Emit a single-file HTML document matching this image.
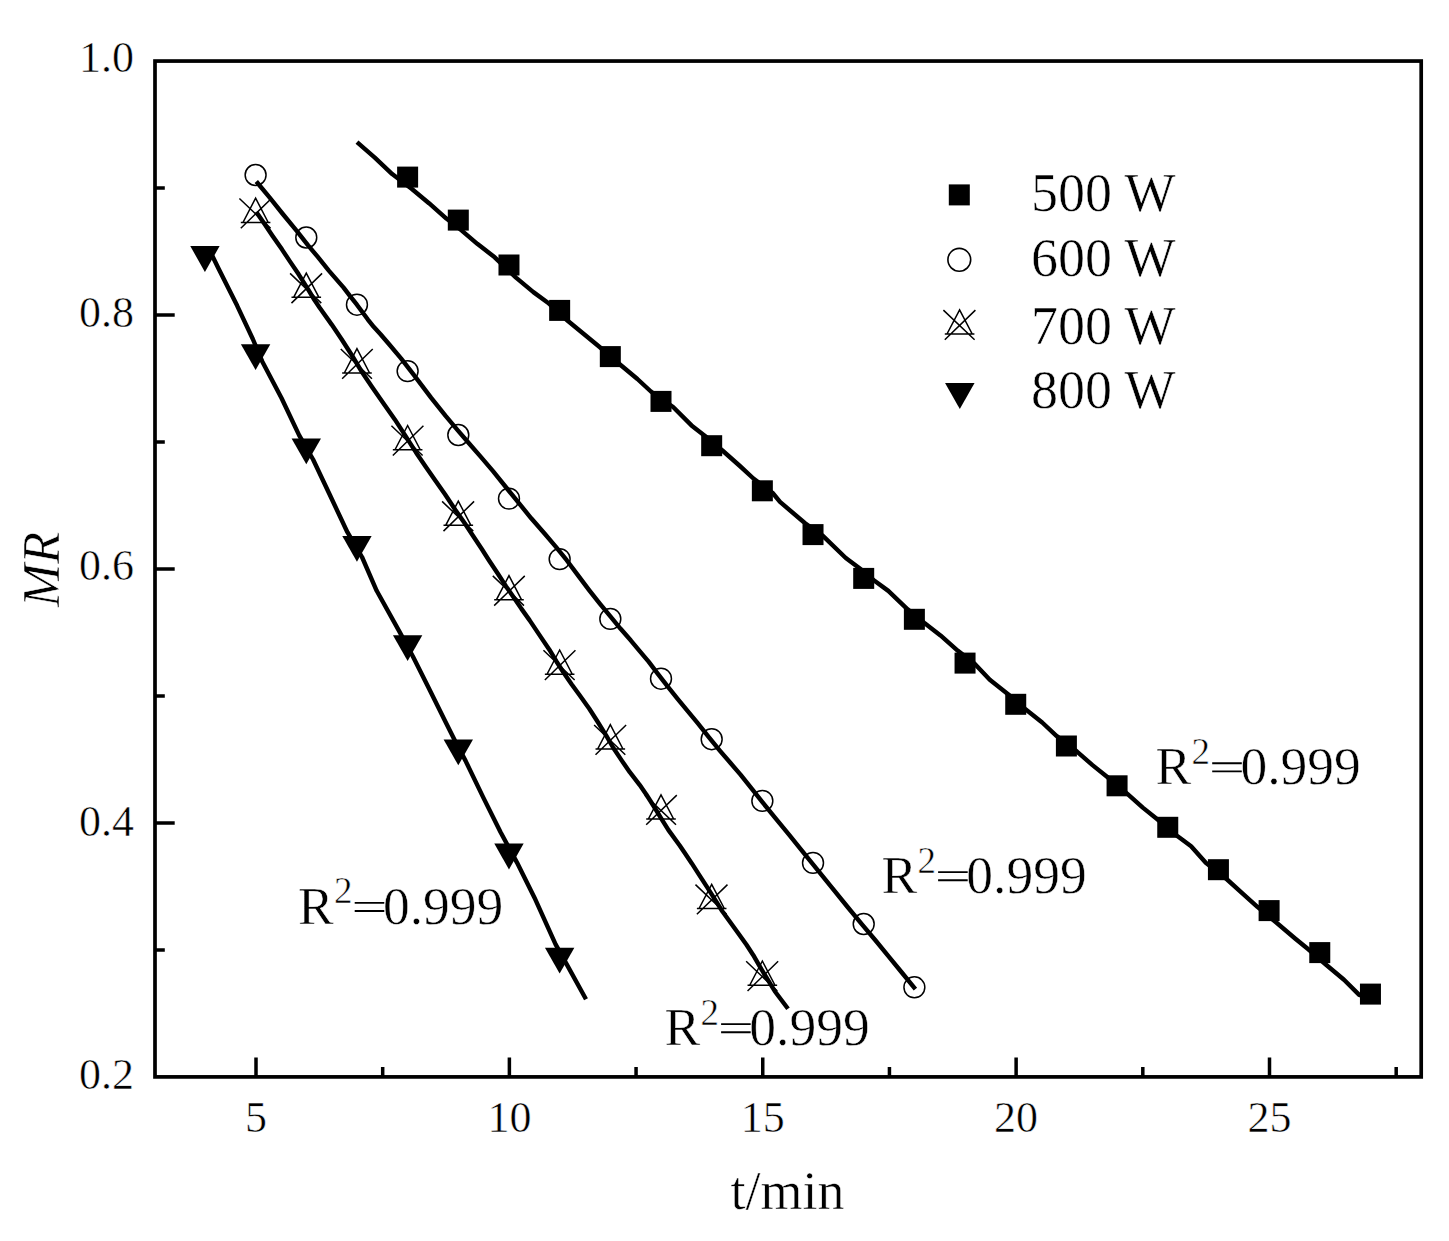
<!DOCTYPE html><html><head><meta charset="utf-8"><style>html,body{margin:0;padding:0;background:#fff;overflow:hidden}svg{display:block}text{font-family:"Liberation Serif",serif;fill:#000;stroke:#fff;stroke-width:0.5px}</style></head><body>
<svg width="1449" height="1241" viewBox="0 0 1449 1241">
<rect x="0" y="0" width="1449" height="1241" fill="#fff"/>
<rect x="155.0" y="61.05" width="1266.20" height="1015.85" fill="none" stroke="#000" stroke-width="3.7"/>
<path d="M256.00 1076.9V1057.40M509.38 1076.9V1057.40M762.75 1076.9V1057.40M1016.12 1076.9V1057.40M1269.50 1076.9V1057.40M382.69 1076.9V1067.10M636.06 1076.9V1067.10M889.44 1076.9V1067.10M1142.81 1076.9V1067.10M1396.19 1076.9V1067.10M155.0 822.94H174.70M155.0 568.98H174.70M155.0 315.01H174.70M155.0 949.92H164.80M155.0 695.96H164.80M155.0 441.99H164.80M155.0 188.03H164.80" stroke="#000" stroke-width="3.5" fill="none"/>
<text x="134" y="71.5" font-size="44" text-anchor="end">1.0</text>
<text x="134" y="327.0" font-size="44" text-anchor="end">0.8</text>
<text x="134" y="580.4" font-size="44" text-anchor="end">0.6</text>
<text x="134" y="835.6" font-size="44" text-anchor="end">0.4</text>
<text x="134" y="1089.2" font-size="44" text-anchor="end">0.2</text>
<text x="256.0" y="1131.5" font-size="44" text-anchor="middle">5</text>
<text x="509.4" y="1131.5" font-size="44" text-anchor="middle">10</text>
<text x="762.8" y="1131.5" font-size="44" text-anchor="middle">15</text>
<text x="1016.1" y="1131.5" font-size="44" text-anchor="middle">20</text>
<text x="1269.5" y="1131.5" font-size="44" text-anchor="middle">25</text>
<text x="787.5" y="1208.5" font-size="54" text-anchor="middle">t/min</text>
<text transform="translate(59,569.4) rotate(-90)" x="0" y="0" font-size="52" font-style="italic" text-anchor="middle">MR</text>
<path d="M357.0 142.2 L374.8 157.7 L392.2 174.1 L411.6 188.7 L429.0 203.2 L446.4 218.6 L461.8 230.6 L477.3 243.8 L494.7 257.3 L516.0 277.6 L533.4 292.1 L547.9 302.7 L568.0 321.0 L583.2 333.5 L599.6 347.0 L620.0 364.5 L637.4 379.0 L650.9 391.5 L673.1 407.0 L691.5 425.4 L705.0 436.0 L722.4 450.5 L739.9 466.0 L753.4 478.5 L772.7 493.0 L780.0 501.9 L805.1 523.2 L822.9 535.8 L845.8 558.0 L861.2 569.6 L873.8 580.3 L888.3 590.9 L907.6 609.3 L924.1 622.8 L940.5 635.4 L957.9 650.8 L974.4 663.4 L989.8 679.8 L1008.4 694.5 L1025.2 709.0 L1042.2 722.5 L1056.7 736.1 L1077.0 751.6 L1092.5 765.1 L1107.0 776.7 L1127.7 794.1 L1142.8 807.6 L1157.3 819.2 L1178.0 836.6 L1191.1 846.3 L1205.8 862.8 L1227.1 879.5 L1243.8 894.7 L1257.4 906.8 L1275.7 922.0 L1295.4 938.7 L1308.3 949.3 L1325.8 964.5 L1344.0 979.7 L1359.2 994.9 L1366.0 997.0" stroke="#000" stroke-width="4.4" fill="none" stroke-linejoin="round" stroke-linecap="butt"/>
<path d="M256.3 181.5 L269.3 197.2 L282.8 214.0 L296.7 230.8 L308.1 245.4 L317.8 256.9 L328.8 270.6 L343.6 287.6 L349.9 295.9 L356.9 304.7 L367.7 319.3 L373.9 327.1 L380.3 334.0 L388.9 344.0 L401.0 358.3 L414.2 375.4 L431.2 397.9 L445.4 415.7 L457.8 430.4 L468.7 443.0 L480.6 456.6 L493.0 471.2 L507.4 489.0 L519.3 503.6 L531.2 518.3 L544.1 533.0 L555.7 546.6 L566.7 560.2 L578.4 575.9 L589.3 590.3 L599.8 603.6 L611.0 617.2 L620.6 628.8 L630.7 640.3 L639.5 650.8 L648.6 661.6 L656.9 672.6 L667.4 686.2 L677.6 698.8 L687.1 710.3 L697.5 722.9 L709.2 737.7 L720.0 750.8 L730.5 763.0 L740.5 774.6 L751.3 788.2 L762.0 801.7 L775.4 818.1 L789.2 834.8 L804.9 854.3 L818.3 870.9 L831.9 887.7 L847.6 907.0 L862.6 925.1 L875.6 940.5 L889.4 957.3 L901.8 972.5 L915.4 989.1" stroke="#000" stroke-width="4.4" fill="none" stroke-linejoin="round" stroke-linecap="butt"/>
<path d="M256.3 211.9 L264.9 224.5 L272.6 236.0 L282.1 249.6 L289.9 261.4 L298.5 274.1 L308.1 289.3 L314.5 300.0 L319.7 307.8 L331.7 324.6 L341.6 339.2 L351.7 355.0 L361.1 370.7 L371.7 386.4 L381.8 401.1 L394.8 419.4 L405.3 435.6 L416.0 452.4 L425.9 467.0 L434.6 479.6 L445.0 494.3 L455.4 510.0 L464.9 523.5 L471.8 534.0 L481.6 548.7 L488.9 560.2 L497.9 573.8 L506.1 586.4 L514.8 598.9 L521.5 608.9 L529.5 620.1 L540.2 636.1 L549.4 649.7 L556.3 661.2 L563.7 672.8 L571.6 684.3 L579.3 694.8 L589.3 708.8 L596.7 720.3 L606.1 735.4 L613.4 748.0 L621.8 760.6 L629.8 772.2 L639.6 784.8 L646.3 794.5 L653.6 806.0 L661.3 818.6 L668.5 830.1 L679.7 845.5 L684.8 853.1 L691.8 863.4 L699.0 874.6 L707.1 887.1 L714.4 898.7 L722.3 911.2 L729.9 921.7 L737.5 932.2 L746.5 944.8 L753.3 955.2 L759.3 965.7 L765.9 976.7 L774.8 991.2 L788.0 1008.8" stroke="#000" stroke-width="4.4" fill="none" stroke-linejoin="round" stroke-linecap="butt"/>
<path d="M212.4 256.0 L218.5 268.5 L237.1 305.6 L252.8 339.0 L262.1 361.2 L281.6 398.3 L299.2 435.4 L313.1 459.5 L329.3 493.8 L347.4 532.2 L362.0 557.0 L376.7 590.8 L399.3 631.4 L412.8 656.3 L428.6 687.8 L445.7 722.3 L455.1 741.0 L465.6 760.9 L483.1 797.1 L500.6 832.2 L517.0 862.6 L534.5 897.7 L555.6 944.4 L567.3 965.4 L586.0 999.3" stroke="#000" stroke-width="4.4" fill="none" stroke-linejoin="round" stroke-linecap="butt"/>
<rect x="397.12" y="166.60" width="21" height="21" fill="#000"/>
<rect x="447.80" y="209.60" width="21" height="21" fill="#000"/>
<rect x="498.48" y="254.50" width="21" height="21" fill="#000"/>
<rect x="549.15" y="299.90" width="21" height="21" fill="#000"/>
<rect x="599.82" y="346.10" width="21" height="21" fill="#000"/>
<rect x="650.50" y="390.90" width="21" height="21" fill="#000"/>
<rect x="701.18" y="435.20" width="21" height="21" fill="#000"/>
<rect x="751.85" y="480.30" width="21" height="21" fill="#000"/>
<rect x="802.52" y="524.10" width="21" height="21" fill="#000"/>
<rect x="853.20" y="567.90" width="21" height="21" fill="#000"/>
<rect x="903.88" y="608.80" width="21" height="21" fill="#000"/>
<rect x="954.55" y="652.60" width="21" height="21" fill="#000"/>
<rect x="1005.23" y="693.80" width="21" height="21" fill="#000"/>
<rect x="1055.90" y="735.50" width="21" height="21" fill="#000"/>
<rect x="1106.57" y="775.30" width="21" height="21" fill="#000"/>
<rect x="1157.25" y="816.80" width="21" height="21" fill="#000"/>
<rect x="1207.92" y="859.20" width="21" height="21" fill="#000"/>
<rect x="1258.60" y="900.10" width="21" height="21" fill="#000"/>
<rect x="1309.27" y="942.10" width="21" height="21" fill="#000"/>
<rect x="1359.95" y="983.60" width="21" height="21" fill="#000"/>
<circle cx="255.60" cy="175.00" r="10.45" fill="none" stroke="#000" stroke-width="1.5"/>
<circle cx="306.28" cy="237.50" r="10.45" fill="none" stroke="#000" stroke-width="1.5"/>
<circle cx="356.95" cy="304.70" r="10.45" fill="none" stroke="#000" stroke-width="1.5"/>
<circle cx="407.62" cy="371.10" r="10.45" fill="none" stroke="#000" stroke-width="1.5"/>
<circle cx="458.30" cy="435.00" r="10.45" fill="none" stroke="#000" stroke-width="1.5"/>
<circle cx="508.98" cy="498.60" r="10.45" fill="none" stroke="#000" stroke-width="1.5"/>
<circle cx="559.65" cy="559.10" r="10.45" fill="none" stroke="#000" stroke-width="1.5"/>
<circle cx="610.32" cy="618.90" r="10.45" fill="none" stroke="#000" stroke-width="1.5"/>
<circle cx="661.00" cy="678.70" r="10.45" fill="none" stroke="#000" stroke-width="1.5"/>
<circle cx="711.68" cy="739.20" r="10.45" fill="none" stroke="#000" stroke-width="1.5"/>
<circle cx="762.35" cy="800.90" r="10.45" fill="none" stroke="#000" stroke-width="1.5"/>
<circle cx="813.02" cy="862.90" r="10.45" fill="none" stroke="#000" stroke-width="1.5"/>
<circle cx="863.70" cy="924.00" r="10.45" fill="none" stroke="#000" stroke-width="1.5"/>
<circle cx="914.38" cy="987.30" r="10.45" fill="none" stroke="#000" stroke-width="1.5"/>
<path d="M255.60 198.20L268.20 222.40H243.00Z M239.40 198.50L270.60 228.20 M271.40 198.50L240.80 228.20 M240.80 222.40H270.40" fill="none" stroke="#000" stroke-width="1.5"/>
<path d="M306.28 273.10L318.88 297.30H293.68Z M290.08 273.40L321.28 303.10 M322.08 273.40L291.48 303.10 M291.48 297.30H321.08" fill="none" stroke="#000" stroke-width="1.5"/>
<path d="M356.95 348.70L369.55 372.90H344.35Z M340.75 349.00L371.95 378.70 M372.75 349.00L342.15 378.70 M342.15 372.90H371.75" fill="none" stroke="#000" stroke-width="1.5"/>
<path d="M407.62 425.50L420.23 449.70H395.02Z M391.43 425.80L422.62 455.50 M423.43 425.80L392.82 455.50 M392.82 449.70H422.43" fill="none" stroke="#000" stroke-width="1.5"/>
<path d="M458.30 501.10L470.90 525.30H445.70Z M442.10 501.40L473.30 531.10 M474.10 501.40L443.50 531.10 M443.50 525.30H473.10" fill="none" stroke="#000" stroke-width="1.5"/>
<path d="M508.98 575.60L521.58 599.80H496.38Z M492.78 575.90L523.98 605.60 M524.77 575.90L494.18 605.60 M494.18 599.80H523.77" fill="none" stroke="#000" stroke-width="1.5"/>
<path d="M559.65 650.00L572.25 674.20H547.05Z M543.45 650.30L574.65 680.00 M575.45 650.30L544.85 680.00 M544.85 674.20H574.45" fill="none" stroke="#000" stroke-width="1.5"/>
<path d="M610.32 724.70L622.92 748.90H597.72Z M594.12 725.00L625.32 754.70 M626.12 725.00L595.52 754.70 M595.52 748.90H625.12" fill="none" stroke="#000" stroke-width="1.5"/>
<path d="M661.00 794.80L673.60 819.00H648.40Z M644.80 795.10L676.00 824.80 M676.80 795.10L646.20 824.80 M646.20 819.00H675.80" fill="none" stroke="#000" stroke-width="1.5"/>
<path d="M711.68 884.30L724.28 908.50H699.08Z M695.48 884.60L726.68 914.30 M727.48 884.60L696.88 914.30 M696.88 908.50H726.48" fill="none" stroke="#000" stroke-width="1.5"/>
<path d="M762.35 961.00L774.95 985.20H749.75Z M746.15 961.30L777.35 991.00 M778.15 961.30L747.55 991.00 M747.55 985.20H777.15" fill="none" stroke="#000" stroke-width="1.5"/>
<path d="M190.22 246.10H219.62L204.92 271.90Z" fill="#000"/>
<path d="M240.90 344.20H270.30L255.60 370.00Z" fill="#000"/>
<path d="M291.58 438.40H320.98L306.28 464.20Z" fill="#000"/>
<path d="M342.25 535.90H371.65L356.95 561.70Z" fill="#000"/>
<path d="M392.93 635.20H422.32L407.62 661.00Z" fill="#000"/>
<path d="M443.60 739.50H473.00L458.30 765.30Z" fill="#000"/>
<path d="M494.28 843.60H523.68L508.98 869.40Z" fill="#000"/>
<path d="M544.95 947.70H574.35L559.65 973.50Z" fill="#000"/>
<rect x="948.80" y="184.40" width="21" height="21" fill="#000"/>
<circle cx="959.30" cy="259.80" r="11.4" fill="none" stroke="#000" stroke-width="1.6"/>
<path d="M959.60 309.80L972.20 334.00H947.00Z M943.40 310.10L974.60 339.80 M975.40 310.10L944.80 339.80 M944.80 334.00H974.40" fill="none" stroke="#000" stroke-width="1.5"/>
<path d="M945.05 383.10H974.55L959.80 408.90Z" fill="#000"/>
<text x="1031" y="211.3" font-size="54">500 W</text>
<text x="1031" y="276.3" font-size="54">600 W</text>
<text x="1031" y="343.5" font-size="54">700 W</text>
<text x="1031" y="408.3" font-size="54">800 W</text>
<text x="1155.6" y="784.4" font-size="53.5">R</text><text x="1191.6" y="763.8" font-size="37">2</text><path d="M1212.2 763.30H1241.8M1212.2 771.40H1241.8" stroke="#000" stroke-width="1.9" fill="none"/><text x="1240.4" y="784.4" font-size="53.5">0.999</text>
<text x="881.5" y="893.2" font-size="53.5">R</text><text x="917.5" y="872.6" font-size="37">2</text><path d="M938.1 872.10H967.7M938.1 880.20H967.7" stroke="#000" stroke-width="1.9" fill="none"/><text x="966.3" y="893.2" font-size="53.5">0.999</text>
<text x="664.5" y="1045.2" font-size="53.5">R</text><text x="700.5" y="1024.6" font-size="37">2</text><path d="M721.1 1024.10H750.7M721.1 1032.20H750.7" stroke="#000" stroke-width="1.9" fill="none"/><text x="749.3" y="1045.2" font-size="53.5">0.999</text>
<text x="298.1" y="924.0" font-size="53.5">R</text><text x="334.1" y="903.4" font-size="37">2</text><path d="M354.7 902.90H384.3M354.7 911.00H384.3" stroke="#000" stroke-width="1.9" fill="none"/><text x="382.9" y="924.0" font-size="53.5">0.999</text>
</svg></body></html>
